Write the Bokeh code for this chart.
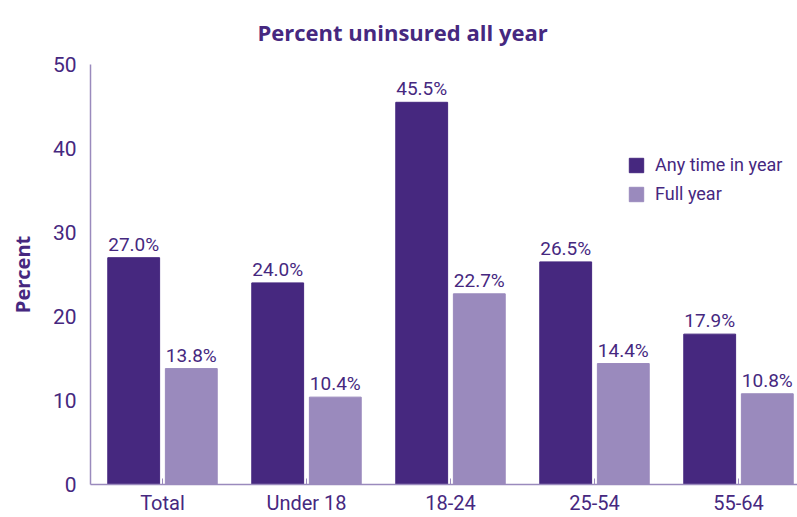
from bokeh.plotting import figure
from bokeh.models import ColumnDataSource, Legend, LegendItem, Range1d, FixedTicker, LabelSet
from bokeh.core.properties import value
from bokeh.embed import file_html
from bokeh.resources import INLINE

categories = ["Total", "Under 18", "18-24", "25-54", "55-64"]
any_time = [27.0, 24.0, 45.5, 26.5, 17.9]
full_year = [13.8, 10.4, 22.7, 14.4, 10.8]
title_text = "Percent uninsured all year"

DARK = "#46287f"
LIGHT = "#9a8abd"
TEXT = "#46287f"

xs = list(range(len(categories)))
src_a = ColumnDataSource(dict(x=[i - 0.2 for i in xs], top=any_time,
                              lab=[f"{v:.1f}%" for v in any_time]))
src_f = ColumnDataSource(dict(x=[i + 0.2 for i in xs], top=full_year,
                              lab=[f"{v:.1f}%" for v in full_year]))

p = figure(width=797, height=517, output_backend="svg", toolbar_location=None,
           x_range=Range1d(-0.5, -0.5 + 707 / 144), y_range=Range1d(0, 50),
           min_border_left=90, min_border_right=0, min_border_top=62, min_border_bottom=30)
p.outline_line_color = None
p.grid.grid_line_color = None

p.title.text = title_text
p.title.align = "left"
p.title.vertical_align = "top"
p.title.text_font = "Open Sans"
p.title.text_font_size = "22px"
p.title.text_font_style = "bold"
p.title.text_color = TEXT
p.title.offset = 167
p.title.standoff = 32

r_a = p.vbar(x="x", top="top", width=0.36, source=src_a, color=DARK)
r_f = p.vbar(x="x", top="top", width=0.36, source=src_f, color=LIGHT)

for s in (src_a, src_f):
    p.add_layout(LabelSet(x="x", y="top", text="lab", source=s, text_align="center",
                          text_baseline="bottom", y_offset=2, text_font=value("Roboto"),
                          text_font_size=value("19px"), text_color=TEXT))

p.xaxis.ticker = FixedTicker(ticks=xs)
p.xaxis.major_label_overrides = {i: c for i, c in enumerate(categories)}
p.xaxis.major_tick_in = 6
p.xaxis.major_tick_out = 0
p.xaxis.minor_tick_line_color = None
p.xaxis.major_label_standoff = 6
p.xaxis.major_tick_line_color = LIGHT

p.yaxis.ticker = FixedTicker(ticks=[0, 10, 20, 30, 40, 50])
p.yaxis.major_tick_line_color = None
p.yaxis.minor_tick_line_color = None
p.yaxis.major_label_standoff = 8
p.yaxis.axis_label = "Percent"
p.yaxis.axis_label_text_font = "Open Sans"
p.yaxis.axis_label_text_font_style = "bold"
p.yaxis.axis_label_text_font_size = "20px"
p.yaxis.axis_label_text_color = TEXT
p.yaxis.axis_label_standoff = 14

for ax in (p.xaxis, p.yaxis):
    ax.axis_line_color = LIGHT
    ax.axis_line_width = 1.5
    ax.major_label_text_font = "Roboto"
    ax.major_label_text_color = TEXT
p.xaxis.major_label_text_font_size = "20px"
p.yaxis.major_label_text_font_size = "21px"

legend = Legend(items=[LegendItem(label="Any time in year", renderers=[r_a]),
                       LegendItem(label="Full year", renderers=[r_f])],
                location=(537, 280), border_line_color=None, background_fill_alpha=0,
                padding=0, margin=0, spacing=8, glyph_width=18, glyph_height=18,
                label_height=18, label_standoff=10, label_text_font="Roboto",
                label_text_font_size="18px", label_text_color=TEXT)
p.add_layout(legend)

open("out.html", "w").write(file_html(p, INLINE))
